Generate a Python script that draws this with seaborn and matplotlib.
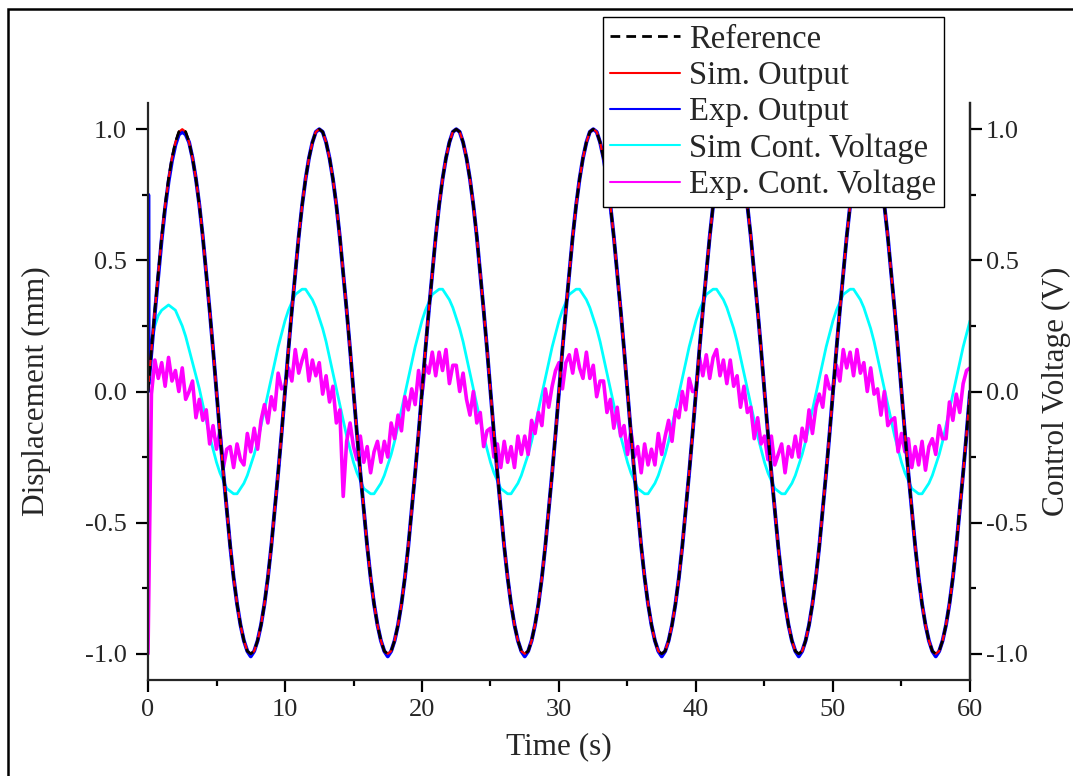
import numpy as np
import pandas as pd
import matplotlib
matplotlib.use("Agg")
import matplotlib.pyplot as plt
from matplotlib.patches import Rectangle
from matplotlib.ticker import MultipleLocator
import seaborn as sns

# ---- data ----
# displacement (mm), 0.25 s steps from 0 to 60 s
t_disp = np.arange(0, 60.01, 0.25)
reference = [
    0.0, 0.16, 0.31, 0.45, 0.59, 0.71, 0.81, 0.89, 0.95, 0.99, 1.0, 0.99, 0.95, 0.89, 0.81, 0.71, 0.59, 0.45, 0.31, 0.16,
    0.0, -0.16, -0.31, -0.45, -0.59, -0.71, -0.81, -0.89, -0.95, -0.99, -1.0, -0.99, -0.95, -0.89, -0.81, -0.71, -0.59, -0.45, -0.31, -0.16,
    0.0, 0.16, 0.31, 0.45, 0.59, 0.71, 0.81, 0.89, 0.95, 0.99, 1.0, 0.99, 0.95, 0.89, 0.81, 0.71, 0.59, 0.45, 0.31, 0.16,
    0.0, -0.16, -0.31, -0.45, -0.59, -0.71, -0.81, -0.89, -0.95, -0.99, -1.0, -0.99, -0.95, -0.89, -0.81, -0.71, -0.59, -0.45, -0.31, -0.16,
    0.0, 0.16, 0.31, 0.45, 0.59, 0.71, 0.81, 0.89, 0.95, 0.99, 1.0, 0.99, 0.95, 0.89, 0.81, 0.71, 0.59, 0.45, 0.31, 0.16,
    0.0, -0.16, -0.31, -0.45, -0.59, -0.71, -0.81, -0.89, -0.95, -0.99, -1.0, -0.99, -0.95, -0.89, -0.81, -0.71, -0.59, -0.45, -0.31, -0.16,
    0.0, 0.16, 0.31, 0.45, 0.59, 0.71, 0.81, 0.89, 0.95, 0.99, 1.0, 0.99, 0.95, 0.89, 0.81, 0.71, 0.59, 0.45, 0.31, 0.16,
    0.0, -0.16, -0.31, -0.45, -0.59, -0.71, -0.81, -0.89, -0.95, -0.99, -1.0, -0.99, -0.95, -0.89, -0.81, -0.71, -0.59, -0.45, -0.31, -0.16,
    0.0, 0.16, 0.31, 0.45, 0.59, 0.71, 0.81, 0.89, 0.95, 0.99, 1.0, 0.99, 0.95, 0.89, 0.81, 0.71, 0.59, 0.45, 0.31, 0.16,
    0.0, -0.16, -0.31, -0.45, -0.59, -0.71, -0.81, -0.89, -0.95, -0.99, -1.0, -0.99, -0.95, -0.89, -0.81, -0.71, -0.59, -0.45, -0.31, -0.16,
    0.0, 0.16, 0.31, 0.45, 0.59, 0.71, 0.81, 0.89, 0.95, 0.99, 1.0, 0.99, 0.95, 0.89, 0.81, 0.71, 0.59, 0.45, 0.31, 0.16,
    0.0, -0.16, -0.31, -0.45, -0.59, -0.71, -0.81, -0.89, -0.95, -0.99, -1.0, -0.99, -0.95, -0.89, -0.81, -0.71, -0.59, -0.45, -0.31, -0.16,
    0.0,
]
sim_output = [
    0.0, 0.16, 0.31, 0.45, 0.59, 0.71, 0.81, 0.89, 0.95, 0.99, 1.0, 0.99, 0.95, 0.89, 0.81, 0.71, 0.59, 0.45, 0.31, 0.16,
    0.0, -0.16, -0.31, -0.45, -0.59, -0.71, -0.81, -0.89, -0.95, -0.99, -1.0, -0.99, -0.95, -0.89, -0.81, -0.71, -0.59, -0.45, -0.31, -0.16,
    0.0, 0.16, 0.31, 0.45, 0.59, 0.71, 0.81, 0.89, 0.95, 0.99, 1.0, 0.99, 0.95, 0.89, 0.81, 0.71, 0.59, 0.45, 0.31, 0.16,
    0.0, -0.16, -0.31, -0.45, -0.59, -0.71, -0.81, -0.89, -0.95, -0.99, -1.0, -0.99, -0.95, -0.89, -0.81, -0.71, -0.59, -0.45, -0.31, -0.16,
    0.0, 0.16, 0.31, 0.45, 0.59, 0.71, 0.81, 0.89, 0.95, 0.99, 1.0, 0.99, 0.95, 0.89, 0.81, 0.71, 0.59, 0.45, 0.31, 0.16,
    0.0, -0.16, -0.31, -0.45, -0.59, -0.71, -0.81, -0.89, -0.95, -0.99, -1.0, -0.99, -0.95, -0.89, -0.81, -0.71, -0.59, -0.45, -0.31, -0.16,
    0.0, 0.16, 0.31, 0.45, 0.59, 0.71, 0.81, 0.89, 0.95, 0.99, 1.0, 0.99, 0.95, 0.89, 0.81, 0.71, 0.59, 0.45, 0.31, 0.16,
    0.0, -0.16, -0.31, -0.45, -0.59, -0.71, -0.81, -0.89, -0.95, -0.99, -1.0, -0.99, -0.95, -0.89, -0.81, -0.71, -0.59, -0.45, -0.31, -0.16,
    0.0, 0.16, 0.31, 0.45, 0.59, 0.71, 0.81, 0.89, 0.95, 0.99, 1.0, 0.99, 0.95, 0.89, 0.81, 0.71, 0.59, 0.45, 0.31, 0.16,
    0.0, -0.16, -0.31, -0.45, -0.59, -0.71, -0.81, -0.89, -0.95, -0.99, -1.0, -0.99, -0.95, -0.89, -0.81, -0.71, -0.59, -0.45, -0.31, -0.16,
    0.0, 0.16, 0.31, 0.45, 0.59, 0.71, 0.81, 0.89, 0.95, 0.99, 1.0, 0.99, 0.95, 0.89, 0.81, 0.71, 0.59, 0.45, 0.31, 0.16,
    0.0, -0.16, -0.31, -0.45, -0.59, -0.71, -0.81, -0.89, -0.95, -0.99, -1.0, -0.99, -0.95, -0.89, -0.81, -0.71, -0.59, -0.45, -0.31, -0.16,
    0.0,
]
# experimental output has a start-up spike at t = 0
t_exp_out = np.r_[0.0, 0.02, 0.05, np.arange(0.25, 60.01, 0.25)]
exp_output = [
    0.0, 0.75, 0.03,
    0.15, 0.30, 0.44, 0.58, 0.70, 0.80, 0.88, 0.94, 0.98, 0.99, 0.98, 0.95, 0.89, 0.81, 0.71, 0.59, 0.45, 0.31, 0.16,
    0.0, -0.16, -0.31, -0.45, -0.59, -0.71, -0.81, -0.89, -0.95, -0.99, -1.01, -0.99, -0.95, -0.89, -0.81, -0.71, -0.59, -0.45, -0.31, -0.16,
    0.0, 0.16, 0.31, 0.45, 0.59, 0.71, 0.81, 0.89, 0.95, 0.99, 1.0, 0.99, 0.95, 0.89, 0.81, 0.71, 0.59, 0.45, 0.31, 0.16,
    0.0, -0.16, -0.31, -0.45, -0.59, -0.71, -0.81, -0.89, -0.95, -0.99, -1.01, -0.99, -0.95, -0.89, -0.81, -0.71, -0.59, -0.45, -0.31, -0.16,
    0.0, 0.16, 0.31, 0.45, 0.59, 0.71, 0.81, 0.89, 0.95, 0.99, 1.0, 0.99, 0.95, 0.89, 0.81, 0.71, 0.59, 0.45, 0.31, 0.16,
    0.0, -0.16, -0.31, -0.45, -0.59, -0.71, -0.81, -0.89, -0.95, -0.99, -1.01, -0.99, -0.95, -0.89, -0.81, -0.71, -0.59, -0.45, -0.31, -0.16,
    0.0, 0.16, 0.31, 0.45, 0.59, 0.71, 0.81, 0.89, 0.95, 0.99, 1.0, 0.99, 0.95, 0.89, 0.81, 0.71, 0.59, 0.45, 0.31, 0.16,
    0.0, -0.16, -0.31, -0.45, -0.59, -0.71, -0.81, -0.89, -0.95, -0.99, -1.01, -0.99, -0.95, -0.89, -0.81, -0.71, -0.59, -0.45, -0.31, -0.16,
    0.0, 0.16, 0.31, 0.45, 0.59, 0.71, 0.81, 0.89, 0.95, 0.99, 1.0, 0.99, 0.95, 0.89, 0.81, 0.71, 0.59, 0.45, 0.31, 0.16,
    0.0, -0.16, -0.31, -0.45, -0.59, -0.71, -0.81, -0.89, -0.95, -0.99, -1.01, -0.99, -0.95, -0.89, -0.81, -0.71, -0.59, -0.45, -0.31, -0.16,
    0.0, 0.16, 0.31, 0.45, 0.59, 0.71, 0.81, 0.89, 0.95, 0.99, 1.0, 0.99, 0.95, 0.89, 0.81, 0.71, 0.59, 0.45, 0.31, 0.16,
    0.0, -0.16, -0.31, -0.45, -0.59, -0.71, -0.81, -0.89, -0.95, -0.99, -1.01, -0.99, -0.95, -0.89, -0.81, -0.71, -0.59, -0.45, -0.31, -0.16,
    0.0,
]

# simulated control voltage (V), 0.25 s steps
sim_voltage = [
    0.10, 0.19, 0.25, 0.29, 0.31, 0.32, 0.33, 0.32, 0.31, 0.28, 0.25, 0.21, 0.16, 0.11, 0.06, 0.01, -0.05, -0.11, -0.17, -0.22,
    -0.27, -0.31, -0.34, -0.37, -0.38, -0.39, -0.39, -0.37, -0.35, -0.32, -0.28, -0.24, -0.19, -0.13, -0.07, -0.01, 0.05, 0.11, 0.17, 0.22,
    0.27, 0.31, 0.34, 0.37, 0.38, 0.39, 0.39, 0.37, 0.35, 0.32, 0.28, 0.24, 0.19, 0.13, 0.07, 0.01, -0.05, -0.11, -0.17, -0.22,
    -0.27, -0.31, -0.34, -0.37, -0.38, -0.39, -0.39, -0.37, -0.35, -0.32, -0.28, -0.24, -0.19, -0.13, -0.07, -0.01, 0.05, 0.11, 0.17, 0.22,
    0.27, 0.31, 0.34, 0.37, 0.38, 0.39, 0.39, 0.37, 0.35, 0.32, 0.28, 0.24, 0.19, 0.13, 0.07, 0.01, -0.05, -0.11, -0.17, -0.22,
    -0.27, -0.31, -0.34, -0.37, -0.38, -0.39, -0.39, -0.37, -0.35, -0.32, -0.28, -0.24, -0.19, -0.13, -0.07, -0.01, 0.05, 0.11, 0.17, 0.22,
    0.27, 0.31, 0.34, 0.37, 0.38, 0.39, 0.39, 0.37, 0.35, 0.32, 0.28, 0.24, 0.19, 0.13, 0.07, 0.01, -0.05, -0.11, -0.17, -0.22,
    -0.27, -0.31, -0.34, -0.37, -0.38, -0.39, -0.39, -0.37, -0.35, -0.32, -0.28, -0.24, -0.19, -0.13, -0.07, -0.01, 0.05, 0.11, 0.17, 0.22,
    0.27, 0.31, 0.34, 0.37, 0.38, 0.39, 0.39, 0.37, 0.35, 0.32, 0.28, 0.24, 0.19, 0.13, 0.07, 0.01, -0.05, -0.11, -0.17, -0.22,
    -0.27, -0.31, -0.34, -0.37, -0.38, -0.39, -0.39, -0.37, -0.35, -0.32, -0.28, -0.24, -0.19, -0.13, -0.07, -0.01, 0.05, 0.11, 0.17, 0.22,
    0.27, 0.31, 0.34, 0.37, 0.38, 0.39, 0.39, 0.37, 0.35, 0.32, 0.28, 0.24, 0.19, 0.13, 0.07, 0.01, -0.05, -0.11, -0.17, -0.22,
    -0.27, -0.31, -0.34, -0.37, -0.38, -0.39, -0.39, -0.37, -0.35, -0.32, -0.28, -0.24, -0.19, -0.13, -0.07, -0.01, 0.05, 0.11, 0.17, 0.22,
    0.27,
]

# experimental control voltage (V), noisy, 0.25 s steps
t_exp_volt = np.arange(0, 60.01, 0.25)
exp_voltage = [
    -1.00, -0.01, 0.12, 0.05, 0.11, 0.02, 0.13, 0.04, 0.08, 0.00,
    0.09, -0.03, 0.00, 0.04, -0.10, -0.03, -0.11, -0.07, -0.20, -0.13,
    -0.22, -0.15, -0.29, -0.22, -0.21, -0.29, -0.20, -0.26, -0.28, -0.16,
    -0.23, -0.14, -0.22, -0.11, -0.05, -0.12, -0.02, -0.07, 0.07, 0.01,
    0.02, 0.09, 0.04, 0.16, 0.07, 0.12, 0.16, 0.04, 0.12, 0.06,
    0.11, -0.01, 0.06, -0.04, 0.02, -0.12, -0.07, -0.40, -0.19, -0.12,
    -0.21, -0.26, -0.17, -0.27, -0.21, -0.31, -0.23, -0.19, -0.27, -0.19,
    -0.25, -0.12, -0.18, -0.09, -0.15, -0.02, -0.07, 0.01, -0.05, 0.08,
    -0.01, 0.10, 0.07, 0.15, 0.06, 0.15, 0.08, 0.16, 0.03, 0.10,
    0.10, 0.00, 0.07, -0.03, -0.09, 0.00, -0.12, -0.08, -0.21, -0.15,
    -0.14, -0.25, -0.20, -0.29, -0.19, -0.27, -0.21, -0.29, -0.17, -0.24,
    -0.17, -0.24, -0.11, -0.16, -0.08, -0.13, 0.01, -0.06, 0.02, 0.08,
    0.11, 0.01, 0.11, 0.14, 0.07, 0.16, 0.09, 0.05, 0.15, 0.05,
    0.10, -0.02, 0.04, 0.04, -0.08, -0.03, -0.14, -0.06, -0.17, -0.13,
    -0.24, -0.15, -0.25, -0.21, -0.31, -0.20, -0.28, -0.22, -0.28, -0.16,
    -0.24, -0.17, -0.11, -0.19, -0.07, -0.10, 0.00, -0.07, 0.05, 0.00,
    0.00, 0.13, 0.06, 0.14, 0.05, 0.13, 0.16, 0.06, 0.12, 0.03,
    0.12, 0.02, 0.06, -0.06, 0.02, -0.08, -0.06, -0.18, -0.10, -0.20,
    -0.17, -0.26, -0.17, -0.28, -0.24, -0.20, -0.31, -0.21, -0.25, -0.17,
    -0.25, -0.14, -0.19, -0.07, -0.16, -0.06, -0.01, -0.06, 0.06, 0.01,
    0.01, 0.10, 0.04, 0.16, 0.09, 0.15, 0.06, 0.16, 0.07, 0.11,
    0.00, 0.09, -0.01, 0.01, -0.09, 0.00, -0.13, -0.11, -0.10, -0.23,
    -0.16, -0.23, -0.18, -0.29, -0.21, -0.28, -0.19, -0.30, -0.21, -0.18,
    -0.24, -0.13, -0.18, -0.18, -0.04, -0.11, -0.01, -0.08, 0.03, 0.08,
    0.09,
]

x_ticks = [0, 10, 20, 30, 40, 50, 60]
y_ticks = [-1.0, -0.5, 0.0, 0.5, 1.0]

# ---- style ----
sns.set_style("ticks")
plt.rcParams["font.family"] = ["Liberation Serif", "DejaVu Serif"]

fig = plt.figure(figsize=(10.73, 7.76), dpi=100)
ax = fig.add_axes([148 / 1073, 1 - 680 / 776, 822 / 1073, 577 / 776])

# both axes span the same range, so every curve goes on the left axes
# (keeps displacement curves drawn on top of the voltage traces)
sns.lineplot(x=t_disp, y=sim_voltage, ax=ax, color="#00ffff",
             lw=2.0, estimator=None, sort=False)
sns.lineplot(x=t_exp_volt, y=exp_voltage, ax=ax, color="#ff00ff",
             lw=2.6, estimator=None, sort=False)
sns.lineplot(x=t_exp_out, y=exp_output, ax=ax, color="#0000ff",
             lw=2.8, estimator=None, sort=False)
sns.lineplot(x=t_disp, y=sim_output, ax=ax, color="#ff0000",
             lw=1.6, estimator=None, sort=False)
sns.lineplot(x=t_disp, y=reference, ax=ax, color="black",
             lw=2.0, linestyle=(0, (3.5, 2.2)), estimator=None, sort=False)

l_simv, l_expv, l_expo, l_simo, l_ref = ax.get_lines()[:5]

ax.set_xlim(0, 60)
ax.set_ylim(-1.1, 1.1)
ax.set_xticks(x_ticks)
ax.set_yticks(y_ticks)
ax.set_yticklabels([f"{v:.1f}" for v in y_ticks])
ax.xaxis.set_minor_locator(MultipleLocator(5))
ax.yaxis.set_minor_locator(MultipleLocator(0.25))

ax2 = ax.twinx()
ax2.set_ylim(-1.1, 1.1)
ax2.set_yticks(y_ticks)
ax2.set_yticklabels([f"{v:.1f}" for v in y_ticks])
ax2.yaxis.set_minor_locator(MultipleLocator(0.25))

for a in (ax, ax2):
    a.spines["top"].set_visible(False)
    for s in a.spines.values():
        s.set_linewidth(1.6)
    a.tick_params(which="major", direction="out", length=8.5, width=1.6,
                  labelsize=19, color="black")
    a.tick_params(which="minor", direction="out", length=4.5, width=1.6,
                  color="black")
ax.tick_params(axis="y", which="both", right=False, pad=7)
ax.tick_params(axis="x", which="both", pad=5)
ax2.tick_params(axis="y", which="both", pad=3)
ax2.spines["left"].set_visible(False)
ax2.spines["bottom"].set_visible(False)

ax.set_xlabel("Time (s)", fontsize=22.5, labelpad=8)
ax.set_ylabel("Displacement (mm)", fontsize=22.5, labelpad=24)
ax2.set_ylabel("Control Voltage (V)", fontsize=22.5, labelpad=10)

leg = fig.legend(
    [l_ref, l_simo, l_expo, l_simv, l_expv],
    ["Reference", "Sim. Output", "Exp. Output", "Sim Cont. Voltage",
     "Exp. Cont. Voltage"],
    loc="upper left", bbox_to_anchor=(603 / 1073, 1 - 17 / 776),
    bbox_transform=fig.transFigure, borderaxespad=0, fontsize=23.5,
    frameon=True, fancybox=False, framealpha=1, edgecolor="black",
    handlelength=2.15, handletextpad=0.28, labelspacing=0.18,
    borderpad=0.22,
)
leg.get_frame().set_linewidth(1.0)
for h in leg.get_lines():
    h.set_linewidth(1.5)
leg.get_lines()[0].set_linewidth(2.0)

# outer frame (only left/top edges fall inside the image)
fig.patches.append(Rectangle((8 / 1073, -0.2), 1.5, 1 - 9 / 776 + 0.2,
                             transform=fig.transFigure, fill=False,
                             edgecolor="black", linewidth=1.8))

fig.savefig("out.png", dpi=100)
